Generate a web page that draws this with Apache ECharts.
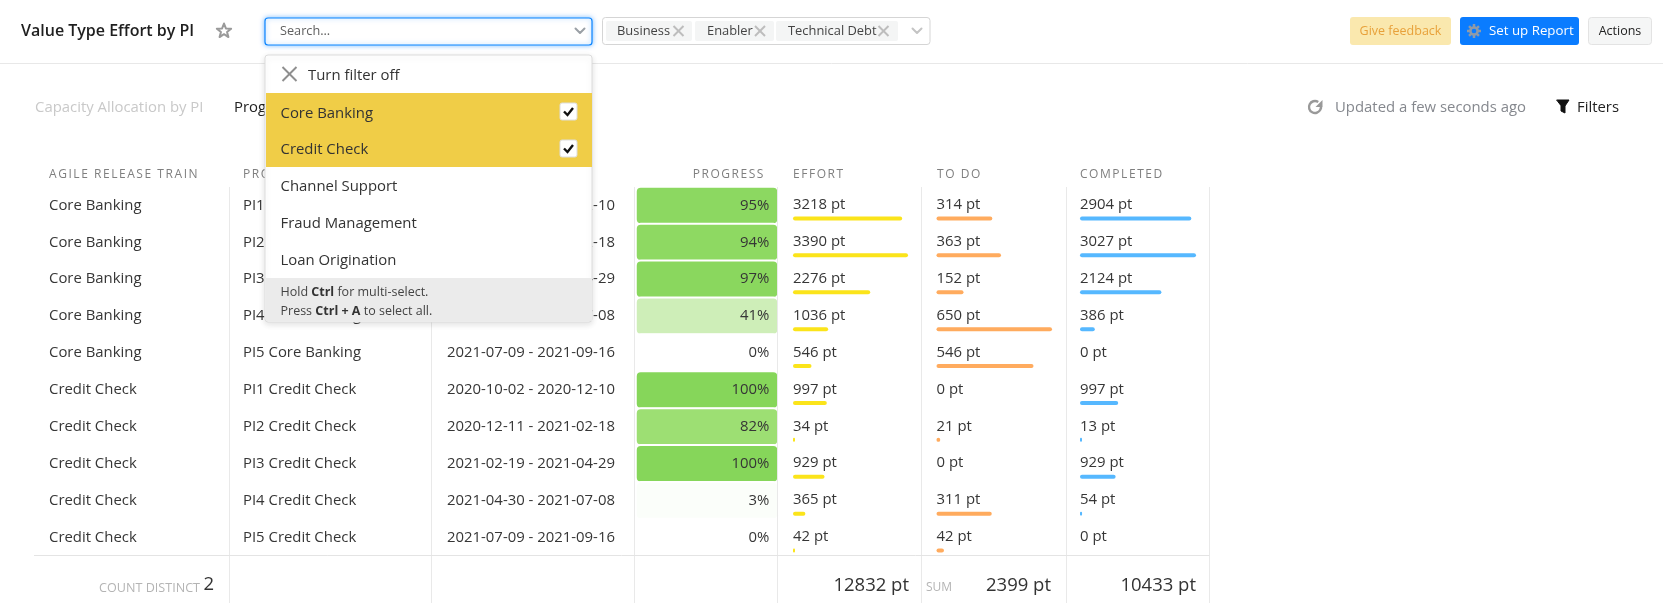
<!DOCTYPE html>
<html><head><meta charset="utf-8">
<style>html,body{margin:0;padding:0;background:#fff;overflow:hidden}#c{width:1663px;height:609px}</style>
<script src="https://cdn.jsdelivr.net/npm/echarts@6/dist/echarts.min.js"></script>
</head><body><div id="c"></div>
<script>
const trains = ['Core Banking','Core Banking','Core Banking','Core Banking','Core Banking','Credit Check','Credit Check','Credit Check','Credit Check','Credit Check'];
const increments = ['PI1 Core Banking','PI2 Core Banking','PI3 Core Banking','PI4 Core Banking','PI5 Core Banking','PI1 Credit Check','PI2 Credit Check','PI3 Credit Check','PI4 Credit Check','PI5 Credit Check'];
const dates = ['2020-10-02 - 2020-12-10','2020-12-11 - 2021-02-18','2021-02-19 - 2021-04-29','2021-04-30 - 2021-07-08','2021-07-09 - 2021-09-16','2020-10-02 - 2020-12-10','2020-12-11 - 2021-02-18','2021-02-19 - 2021-04-29','2021-04-30 - 2021-07-08','2021-07-09 - 2021-09-16'];
const progress = [95,94,97,41,0,100,82,100,3,0];
const effort = [3218,3390,2276,1036,546,997,34,929,365,42];
const todo = [314,363,152,650,546,0,21,0,311,42];
const completed = [2904,3027,2124,386,0,997,13,929,54,0];
const totals = ['12832 pt','2399 pt','10433 pt'];
const columnHeaders = ['AGILE RELEASE TRAIN','PROGRAM INCREMENT','DATES','PROGRESS','EFFORT','TO DO','COMPLETED'];
const filterItems = ['Core Banking','Credit Check','Channel Support','Fraud Management','Loan Origination'];
const tags = ['Business','Enabler','Technical Debt'];

// column headers are letter-spaced in the reference; the canvas supports this natively
const spaced = new Set(columnHeaders);
const nativeFill = CanvasRenderingContext2D.prototype.fillText;
CanvasRenderingContext2D.prototype.fillText = function(t, x, y, m){
  if (spaced.has(t)) {
    this.save();
    this.letterSpacing = '1.55px';
    nativeFill.call(this, t, x, y);
    this.restore();
    return;
  }
  return m === undefined ? nativeFill.call(this, t, x, y) : nativeFill.call(this, t, x, y, m);
};

const FONT = '"Open Sans"';
const TOP = 185, H = 369, BODY = 14.9, INK = '#363636';
const chart = echarts.init(document.getElementById('c'), null, {renderer:'canvas'});

const grids = [], xAxes = [], yAxes = [], series = [];
function textCol(x, labels){
  const i = grids.length;
  grids.push({left:x, width:1, top:TOP+2, height:H});
  xAxes.push({type:'value', gridIndex:i, show:false, min:0, max:1});
  yAxes.push({type:'category', gridIndex:i, inverse:true, data:labels, axisLine:{show:false}, axisTick:{show:false}, splitLine:{show:false},
    axisLabel:{align:'left', margin:0, interval:0, hideOverlap:false, fontFamily:FONT, fontSize:BODY, color:INK}});
  series.push({type:'bar', xAxisIndex:i, yAxisIndex:i, data:labels.map(()=>0), silent:true, itemStyle:{opacity:0}});
}
function barCol(x, w, vals, color){
  const i = grids.length;
  grids.push({left:x, width:w, top:TOP+15, height:H});
  xAxes.push({type:'value', gridIndex:i, show:false, min:0, max:Math.max(...vals)});
  yAxes.push({type:'category', gridIndex:i, inverse:true, show:false, data:increments});
  series.push({type:'bar', xAxisIndex:i, yAxisIndex:i, barWidth:4, barMinHeight:2,
    data:vals.map(v=> v===0 ? {value:0, itemStyle:{color:'rgba(255,255,255,0)'}} : v),
    itemStyle:{color, borderRadius:2},
    label:{show:true, position:[0,-11.5], align:'left', verticalAlign:'middle', fontFamily:FONT, fontSize:BODY, color:INK, formatter:p=>p.value+' pt'}});
}
textCol(49, trains);
textCol(243, increments);
textCol(447, dates);
// progress heat cells
(function(){
  const i = grids.length;
  grids.push({left:636, width:142, top:TOP+2, height:H});
  xAxes.push({type:'category', gridIndex:i, show:false, data:['Progress']});
  yAxes.push({type:'category', gridIndex:i, inverse:true, show:false, data:increments});
  series.push({type:'heatmap', xAxisIndex:i, yAxisIndex:i, data:progress.map((v,r)=>[0,r,v]),
    itemStyle:{borderColor:'#fff', borderWidth:2, borderRadius:5},
    label:{show:true, position:'insideRight', distance:10, fontFamily:FONT, fontSize:BODY, color:INK, formatter:p=>p.value[2]+'%'}});
})();
barCol(793, 115, effort, '#fbe41a');
barCol(936.5, 115.5, todo, '#ffab5e');
barCol(1080, 116, completed, '#56b8ff');

// ---- page chrome ----
const g = [];
const T = (x,y,text,o={}) => g.push({type:'text', z:o.z||100, style:{x,y,text,font:`${o.weight||400} ${o.size||BODY}px ${FONT}`,fill:o.fill||INK,align:o.align||'left',verticalAlign:'middle'}});
const R = (x,y,w,h,o={}) => g.push({type:'rect', z:o.z||100, shape:{x,y,width:w,height:h,r:o.r||0}, style:{fill:o.fill||'#fff',stroke:o.stroke||null,lineWidth:o.lw||1,shadowBlur:o.sb||0,shadowColor:o.sc||'transparent',shadowOffsetY:o.sy||0}});
const L = (x1,y1,x2,y2,c,o={}) => g.push({type:'line', z:o.z||100, shape:{x1,y1,x2,y2}, style:{stroke:c,lineWidth:o.lw||1,lineCap:o.cap||'butt'}});
const P = (pts,o={}) => g.push({type:o.fill?'polygon':'polyline', z:o.z||100, shape:{points:pts}, style:{fill:o.fill||null,stroke:o.stroke||null,lineWidth:o.lw||1,lineJoin:'round',lineCap:'round'}});
const X = (cx,cy,s,c,lw=2,z=100) => {L(cx-s,cy-s,cx+s,cy+s,c,{lw,z});L(cx-s,cy+s,cx+s,cy-s,c,{lw,z});};
const chev = (cx,cy,c) => P([[cx-4.5,cy-2.5],[cx,cy+2],[cx+4.5,cy-2.5]],{stroke:c,lw:2});

// table lines
[229.5,431.5,634.5,777.5,921.5,1066.5,1209.5].forEach(x=>L(x,187,x,603,'#e9e9e9',{z:50}));
L(34,555.5,1209.5,555.5,'#e4e4e4',{z:50});
// headers
const headerFont = {size:12, fill:'#7f7f7f'};
const hx = [49,243,447,765,793,937,1080];
columnHeaders.forEach((t,i)=>T(hx[i],174.5,t,{...headerFont,align:i===3?'right':'left'}));
// footer
const FOOT = 18.5;
T(200,588,'COUNT DISTINCT',{size:12.6,fill:'#b4b4b4',align:'right'});
T(214,585,'2',{size:FOOT,align:'right',fill:'#333'});
T(909,586,totals[0],{size:FOOT,align:'right',fill:'#333'});
T(952,588,'SUM',{size:12,fill:'#b4b4b4',align:'right'});
T(1051,586,totals[1],{size:FOOT,align:'right',fill:'#333'});
T(1196,586,totals[2],{size:FOOT,align:'right',fill:'#333'});

// top bar
T(21,31,'Value Type Effort by PI',{size:16,weight:600,fill:'#1f1f1f'});
const sp=[];for(let i=0;i<10;i++){const r=i%2?3.2:7.5,a=-Math.PI/2+i*Math.PI/5;sp.push([224+r*Math.cos(a),31+r*Math.sin(a)]);}
P(sp,{fill:'#fff',stroke:'#9a9a9a',lw:2});
L(0,63.5,1663,63.5,'#e8e8e8',{z:1});
// search box
R(265,18,327,27,{r:3,stroke:'#0a84ff',lw:1.2,sb:5,sc:'rgba(10,132,255,.5)'});
T(280,31,'Search...',{size:12.7,fill:'#5f5f5f'});
chev(580,31,'#9aa0a6');
// tag box
R(602.5,17.5,327.5,27,{r:3,stroke:'#d5d5d5'});
[[606,86,617,678.5],[695,79,707,760],[776,122,788,883.5]].forEach((t,i)=>{
  R(t[0],21,t[1],20,{r:2,fill:'#f4f5f5'});
  T(t[2],31,tags[i],{size:12.9,fill:'#444'});
  X(t[3],31,5,'#bdbdbd');
});
chev(917,31,'#c4c4c4');
// buttons
R(1350,17,101,28,{r:3,fill:'#fae8ae'});
T(1400.5,31,'Give feedback',{size:12.5,fill:'#e8a13a',align:'center'});
R(1460,17,119,28,{r:3,fill:'#0a7cff'});
for(let i=0;i<4;i++){const a=i*Math.PI/4;L(1474-7*Math.cos(a),31-7*Math.sin(a),1474+7*Math.cos(a),31+7*Math.sin(a),'#8f9aa8',{lw:2.5});}
g.push({type:'circle',z:101,shape:{cx:1474,cy:31,r:3.6},style:{fill:'#0a7cff',stroke:'#8f9aa8',lineWidth:2.5}});
T(1489,31,'Set up Report',{size:13.3,fill:'#fff'});
R(1588.5,17.5,63,27,{r:3,fill:'#f5f6f6',stroke:'#e3e3e3'});
T(1620,31,'Actions',{size:12.5,fill:'#222',align:'center'});
// second row
T(35,108,'Capacity Allocation by PI',{fill:'#c9c9c9'});
T(234,108,'Progress by PI',{fill:'#222'});
g.push({type:'arc',z:100,shape:{cx:1315,cy:107,r:6,startAngle:-0.3,endAngle:-1.0,clockwise:true},style:{fill:null,stroke:'#999',lineWidth:2.4}});
P([[1322.5,100],[1322.5,107],[1315.5,107]],{fill:'#999'});
T(1335,108,'Updated a few seconds ago',{fill:'#85888e'});
P([[1557,100],[1569,100],[1565,106],[1565,113],[1561,111],[1561,106]],{fill:'#111',stroke:'#111'});
T(1577,108,'Filters',{fill:'#222'});
// dropdown
const D=200;
R(265,55,327,267,{z:D,r:3,stroke:'#dcdcdc',sb:6,sc:'rgba(0,0,0,.12)',sy:2});
X(289.5,74,7,'#8f8f8f',2,D+1);
const zT=(x,y,t,o)=>T(x,y,t,{...o,z:D+2});
zT(308,76,'Turn filter off',{fill:'#333'});
R(266,93,326,74,{z:D+1,fill:'#f0cd47'});
const ys=[114,149.5,186.5,224,261];
const boxY=[111.5,148.5];
filterItems.forEach((t,i)=>{
  zT(280.5,ys[i],t,{fill:'#333'});
  if(i<2){
    R(560,boxY[i]-8.5,17,17,{z:D+2,r:2,stroke:'#ddd'});
    g.push({type:'polyline',z:D+3,shape:{points:[[564,boxY[i]],[567.5,boxY[i]+3.5],[573,boxY[i]-3.5]]},style:{fill:null,stroke:'#111',lineWidth:2.4}});
  }
});
R(266,278,326,43,{z:D+1,fill:'#ebebeb'});
const richNote={a:{font:`400 12.5px ${FONT}`,fill:'#444'},b:{font:`700 12.5px ${FONT}`,fill:'#333'}};
g.push({type:'text',z:D+2,style:{x:280.5,y:292.5,verticalAlign:'middle',text:'{a|Hold }{b|Ctrl}{a| for multi-select.}',rich:richNote}});
g.push({type:'text',z:D+2,style:{x:280.5,y:311,verticalAlign:'middle',text:'{a|Press }{b|Ctrl + A}{a| to select all.}',rich:richNote}});

chart.setOption({
  animation:false, backgroundColor:'#fff', tooltip:{show:false},
  grid:grids, xAxis:xAxes, yAxis:yAxes, series,
  visualMap:{show:false, type:'continuous', seriesIndex:3, dimension:2, min:0, max:100,
    inRange:{color:['#ffffff','#e0f5d5','#c4eaa8','#a6e27d','#86d65a']}},
  graphic:{elements:g}
});
</script></body></html>
